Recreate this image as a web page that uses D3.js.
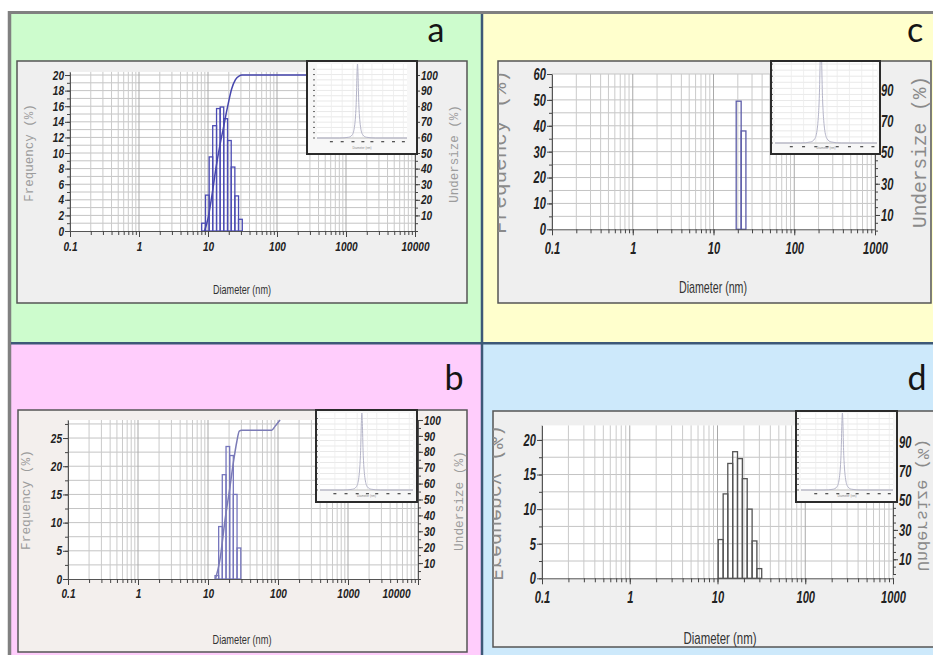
<!DOCTYPE html>
<html lang="en">
<head>
<meta charset="UTF-8">
<title>Particle size distribution (a-d)</title>
<script src="https://d3js.org/d3.v7.min.js"></script>
<style>
  body { margin: 0; background: #fff; }
  svg { display: block; }
  .tl { font-family: "Liberation Sans Narrow", "Liberation Sans", Arial, sans-serif; font-style: italic; font-weight: bold; fill: #222; }
  .axt { font-family: "Liberation Mono", "DejaVu Sans Mono", monospace; }
  .xt { font-family: "Liberation Sans Narrow", "Liberation Sans", Arial, sans-serif; fill: #333; }
  .letter { font-family: Lato, "Open Sans", sans-serif; fill: #151515; }
</style>
</head>
<body>
<svg id="chart" width="933" height="655"></svg>
<script>
// x axis (diameter, nm)
const diamTicksLong = [0.1, 1, 10, 100, 1000, 10000];
const diamLabelsLong = ["0.1", "1", "10", "100", "1000", "10000"];
const diamTicksShort = [0.1, 1, 10, 100, 1000];
const diamLabelsShort = ["0.1", "1", "10", "100", "1000"];

// a
const aBinEdges = [8.1, 9.2, 10.4, 11.7, 13.3, 15.0, 16.9, 19.2, 21.7, 24.5, 27.7, 31.4];
const aFrequency = [1.0, 4.6, 9.5, 13.5, 15.7, 15.9, 14.4, 11.6, 8.2, 4.5, 1.5];
const aUnderDiam = [8.9, 10.0, 11.6, 13.0, 14.6, 16.7, 19.3, 22.0, 25.0, 28.5, 31.0, 10000];
const aUndersize = [0, 8, 25, 40, 53, 66, 80, 91, 97, 99.5, 100, 100];
const aFreqTicks = [0, 2, 4, 6, 8, 10, 12, 14, 16, 18, 20];
const aUnderTicks = [10, 20, 30, 40, 50, 60, 70, 80, 90, 100];

// b
const bBinEdges = [12.6, 14.2, 16.0, 18.1, 20.4, 23.0, 26.0, 29.4];
const bFrequency = [0.6, 9.3, 18.5, 23.5, 21.9, 15.0, 5.5];
const bUnderDiam = [12.8, 14.8, 17.5, 20.6, 23.0, 25.7, 28.0, 30.3, 81.3, 90.6, 107];
const bUndersize = [0, 12, 37, 58, 73, 86, 93, 93.5, 93.5, 96, 100];
const bFreqTicks = [0, 5, 10, 15, 20, 25];
const bUnderTicks = [10, 20, 30, 40, 50, 60, 70, 80, 90, 100];

// c
const cBinEdges = [19.1, 22.0, 25.2];
const cFrequency = [49.5, 38];
const cFreqTicks = [0, 10, 20, 30, 40, 50, 60];
const cUnderTicks = [10, 30, 50, 70, 90];

// d
const dBinEdges = [10.2, 11.6, 13.1, 14.9, 16.9, 19.2, 21.8, 24.8, 28.1, 31.9];
const dFrequency = [5.6, 12.2, 16.6, 18.3, 17.3, 14.4, 10.0, 5.4, 1.4];
const dFreqTicks = [0, 5, 10, 15, 20];
const dUnderTicks = [10, 30, 50, 70, 90];

// inset peak (same shape in every inset)
const peakX = [0, 2.5, 3.5, 3.9, 4.15, 4.35, 4.5, 4.65, 4.85, 5.1, 5.5, 6.5, 10];
const peakY = [0, 0, 1, 4, 14, 45, 100, 45, 14, 4, 1, 0, 0];
const insetTicks = [1.6, 2.8, 4.0, 5.1, 6.1, 7.3, 8.5, 9.6];

const svg = d3.select("#chart");

const panels = [
  {
    letter: "a", letterPos: [436, 42], bg: "#cdfccd", area: [11, 14, 481, 342],
    box: [17, 61, 467, 303], boxFill: "#efefef",
    x0: 70, x1: 415, xMax: 10000, xTicks: diamTicksLong, xLabels: diamLabelsLong, xPad: 5, font: 13, digitW: 5.6, lastDx: 0,
    y0: 231, yTopPx: 71.9, gridTop: 20.4, gridStep: 1,
    freqTicks: aFreqTicks, freqMinor: 1, underTicks: aUnderTicks, underMinor: 5, rRange: [231, 75],
    edges: aBinEdges, freq: aFrequency, barColor: "#4b4bb4",
    under: aUnderDiam.map((d, i) => [d, aUndersize[i]]), curveColor: "#4646ad",
    freqTitle: { x: 30, y: 153, size: 12.5, mirror: false },
    underTitle: { x: 455, y: 154, size: 12.5, mirror: false },
    titleColor: "#9c9c9c",
    xTitle: { x: 242, y: 294, size: 13, len: 58 },
    inset: { frame: [307, 61, 417, 154], plot: [317, 64, 407, 138], peakMax: 100 }
  },
  {
    letter: "c", letterPos: [915, 42], bg: "#ffffcd", area: [483, 14, 933, 342],
    box: [498, 61, 931, 303], boxFill: "#efefef",
    x0: 552, x1: 875, xMax: 1000, xTicks: diamTicksShort, xLabels: diamLabelsShort, xPad: 7, font: 17, digitW: 6.2, lastDx: 0,
    y0: 229.3, yTopPx: 74, gridTop: 60, gridStep: 5,
    freqTicks: cFreqTicks, freqMinor: 5, underTicks: cUnderTicks, underMinor: 5, rRange: [230.6, 74.4],
    edges: cBinEdges, freq: cFrequency, barColor: "#5c5ca8",
    under: null,
    freqTitle: { x: 500, y: 152, size: 21, mirror: false },
    underTitle: { x: 921, y: 152, size: 19.5, mirror: false },
    titleColor: "#8a8a8a",
    xTitle: { x: 713, y: 293, size: 17, len: 68 },
    inset: { frame: [771, 61, 880, 154], plot: [775, 58, 877, 143], peakMax: 80 }
  },
  {
    letter: "b", letterPos: [454, 390], bg: "#ffcdfc", area: [11, 344, 481, 655],
    box: [18, 410, 467, 652], boxFill: "#f3efed",
    x0: 68, x1: 418, xMax: 10000, xTicks: diamTicksLong, xLabels: diamLabelsLong, xPad: 4, font: 13, digitW: 5.6, lastDx: -22,
    y0: 579, yTopPx: 420, gridTop: 28.2, gridStep: 2.5,
    freqTicks: bFreqTicks, freqMinor: 2.5, underTicks: bUnderTicks, underMinor: 5, rRange: [579, 420],
    edges: bBinEdges, freq: bFrequency, barColor: "#7676bd",
    under: bUnderDiam.map((d, i) => [d, bUndersize[i]]), curveColor: "#7b7bb6",
    freqTitle: { x: 26, y: 500, size: 12.8, mirror: false },
    underTitle: { x: 459, y: 501, size: 12.8, mirror: false },
    titleColor: "#9c9c9c",
    xTitle: { x: 242, y: 644, size: 13, len: 59 },
    inset: { frame: [316, 410, 417, 502], plot: [320, 413, 413, 490], peakMax: 100 }
  },
  {
    letter: "d", letterPos: [917, 390], bg: "#cde9fb", area: [483, 344, 933, 655],
    box: [493, 411, 940, 647], boxFill: "#efefef",
    x0: 542, x1: 893, xMax: 1000, xTicks: diamTicksShort, xLabels: diamLabelsShort, xPad: 7, font: 17, digitW: 6.2, lastDx: 0,
    y0: 578.3, yTopPx: 425.4, gridTop: 22.1, gridStep: 2.5,
    freqTicks: dFreqTicks, freqMinor: 2.5, underTicks: dUnderTicks, underMinor: 5, rRange: [574, 427],
    edges: dBinEdges, freq: dFrequency, barColor: "#555",
    under: null,
    freqTitle: { x: 495, y: 503, size: 20, mirror: true },
    underTitle: { x: 922, y: 505, size: 17, mirror: true },
    titleColor: "#8a8a8a",
    xTitle: { x: 720, y: 644, size: 17, len: 73 },
    inset: { frame: [796, 411, 897, 502], plot: [801, 413, 893, 490], peakMax: 100 }
  }
];

// panel backgrounds and frame
panels.forEach(p => {
  svg.append("rect").attr("x", p.area[0]).attr("y", p.area[1])
    .attr("width", p.area[2] - p.area[0]).attr("height", p.area[3] - p.area[1])
    .attr("fill", p.bg);
});
svg.append("line").attr("x1", 8).attr("x2", 933).attr("y1", 12.5).attr("y2", 12.5)
  .attr("stroke", "#808080").attr("stroke-width", 3);
svg.append("line").attr("x1", 9.5).attr("x2", 9.5).attr("y1", 11).attr("y2", 655)
  .attr("stroke", "#808080").attr("stroke-width", 3.5);
svg.append("line").attr("x1", 482).attr("x2", 482).attr("y1", 14).attr("y2", 655)
  .attr("stroke", "#3d5877").attr("stroke-width", 2.5);
svg.append("line").attr("x1", 11).attr("x2", 933).attr("y1", 343.2).attr("y2", 343.2)
  .attr("stroke", "#3d5877").attr("stroke-width", 2.5);

// condensed italic labels: squeeze each label to the width seen in the picture
function styleAxis(sel, p) {
  sel.select(".domain").attr("stroke", "#555");
  sel.selectAll(".tick line").attr("stroke", "#444");
  sel.selectAll(".tick text").attr("class", "tl").attr("fill", null)
    .style("font-size", p.font + "px")
    .each(function () {
      const s = d3.select(this).text();
      if (!s) return;
      const w = s.split("").reduce((acc, ch) => acc + (ch === "." ? p.digitW * 0.5 : p.digitW), 0);
      d3.select(this).attr("textLength", w).attr("lengthAdjust", "spacingAndGlyphs");
    });
}

function drawPanel(p, idx) {
  const g = svg.append("g");
  const clipId = "clip" + idx;
  g.append("clipPath").attr("id", clipId).append("rect")
    .attr("x", p.box[0]).attr("y", p.box[1])
    .attr("width", p.box[2] - p.box[0]).attr("height", p.box[3] - p.box[1]);

  g.append("rect").attr("x", p.box[0]).attr("y", p.box[1])
    .attr("width", p.box[2] - p.box[0]).attr("height", p.box[3] - p.box[1])
    .attr("fill", p.boxFill).attr("stroke", "#555").attr("stroke-width", 1.5);

  const x = d3.scaleLog().domain([0.1, p.xMax]).range([p.x0, p.x1]);
  const y = d3.scaleLinear().domain([0, p.gridTop]).range([p.y0, p.yTopPx]);
  const yR = d3.scaleLinear().domain([0, 100]).range(p.rRange);

  // plot area
  g.append("rect").attr("x", p.x0).attr("y", p.yTopPx)
    .attr("width", p.x1 - p.x0).attr("height", p.y0 - p.yTopPx).attr("fill", "#fff");

  // grid
  const hLines = d3.range(p.gridStep, p.gridTop + 0.01, p.gridStep);
  g.append("g").selectAll("line").data(hLines).join("line")
    .attr("x1", p.x0).attr("x2", p.x1)
    .attr("y1", d => y(d)).attr("y2", d => y(d))
    .attr("stroke", "#c4c4c4").attr("stroke-width", 1);

  const minors = [];
  for (let e = -1; e < Math.round(Math.log10(p.xMax)); e++) {
    for (let m = 1; m < 10; m++) minors.push(m * Math.pow(10, e));
  }
  minors.push(p.xMax);
  g.append("g").selectAll("line").data(minors).join("line")
    .attr("x1", d => x(d)).attr("x2", d => x(d))
    .attr("y1", p.yTopPx).attr("y2", p.y0)
    .attr("stroke", (d, i) => i % 9 === 0 ? "#a9a9a9" : "#cacaca").attr("stroke-width", 1);

  // bars
  g.append("g").selectAll("rect").data(p.freq).join("rect")
    .attr("x", (d, i) => x(p.edges[i]))
    .attr("width", (d, i) => x(p.edges[i + 1]) - x(p.edges[i]))
    .attr("y", d => y(d))
    .attr("height", d => p.y0 - y(d))
    .attr("fill", "none").attr("stroke", p.barColor).attr("stroke-width", 1.3);

  // undersize curve
  if (p.under) {
    g.append("path").datum(p.under)
      .attr("d", d3.line().x(d => x(d[0])).y(d => yR(d[1])).curve(d3.curveMonotoneX))
      .attr("fill", "none").attr("stroke", p.curveColor).attr("stroke-width", 1.5);
  }

  // x axis
  const xa = g.append("g").attr("transform", `translate(0,${p.y0})`)
    .call(d3.axisBottom(x).tickValues(minors).tickFormat("").tickSize(4).tickSizeOuter(0));
  styleAxis(xa, p);
  const xb = g.append("g").attr("transform", `translate(0,${p.y0})`)
    .call(d3.axisBottom(x).tickValues(p.xTicks).tickFormat((d, i) => p.xLabels[i])
      .tickSize(6).tickPadding(p.xPad).tickSizeOuter(0));
  styleAxis(xb, p);
  xb.select(".domain").remove();
  xb.selectAll(".tick text").attr("dx", (d, i) => i === p.xTicks.length - 1 ? p.lastDx : 0);

  // left axis
  const ya = g.append("g").attr("transform", `translate(${p.x0},0)`)
    .call(d3.axisLeft(y).tickValues(d3.range(0, p.gridTop, p.freqMinor)).tickFormat("").tickSize(3).tickSizeOuter(0));
  styleAxis(ya, p);
  const yb = g.append("g").attr("transform", `translate(${p.x0},0)`)
    .call(d3.axisLeft(y).tickValues(p.freqTicks).tickSize(5).tickPadding(1).tickSizeOuter(0));
  styleAxis(yb, p);
  yb.select(".domain").remove();

  // right axis
  const ra = g.append("g").attr("transform", `translate(${p.x1},0)`)
    .call(d3.axisRight(yR).tickValues(d3.range(0, 100.1, p.underMinor)).tickFormat("").tickSize(3).tickSizeOuter(0));
  styleAxis(ra, p);
  const rb = g.append("g").attr("transform", `translate(${p.x1},0)`)
    .call(d3.axisRight(yR).tickValues(p.underTicks).tickSize(5).tickPadding(1).tickSizeOuter(0));
  styleAxis(rb, p);
  rb.select(".domain").remove();

  // rotated axis titles, clipped to the chart box
  [[p.freqTitle, "Frequency (%)"], [p.underTitle, "Undersize (%)"]].forEach(([t, label]) => {
    g.append("g").attr("clip-path", `url(#${clipId})`)
      .append("text").attr("class", "axt")
      .attr("transform", `translate(${t.x},${t.y}) rotate(-90)` + (t.mirror ? " scale(1,-1)" : ""))
      .attr("text-anchor", "middle").attr("dominant-baseline", "central")
      .style("font-size", t.size + "px")
      .attr("fill", p.titleColor)
      .text(label);
  });

  g.append("text").attr("class", "xt")
    .attr("x", p.xTitle.x).attr("y", p.xTitle.y).attr("text-anchor", "middle")
    .style("font-size", p.xTitle.size + "px")
    .attr("textLength", p.xTitle.len).attr("lengthAdjust", "spacingAndGlyphs")
    .text("Diameter (nm)");

  // inset
  const ins = p.inset;
  const ig = g.append("g");
  const insClip = "insclip" + idx;
  ig.append("clipPath").attr("id", insClip).append("rect")
    .attr("x", ins.frame[0]).attr("y", ins.frame[1])
    .attr("width", ins.frame[2] - ins.frame[0]).attr("height", ins.frame[3] - ins.frame[1]);
  ig.append("rect").attr("x", ins.frame[0]).attr("y", ins.frame[1])
    .attr("width", ins.frame[2] - ins.frame[0]).attr("height", ins.frame[3] - ins.frame[1])
    .attr("fill", "#f7f7f7");
  const ix = d3.scaleLinear().domain([0, 10]).range([ins.plot[0], ins.plot[2]]);
  const iy = d3.scaleLinear().domain([0, ins.peakMax]).range([ins.plot[3], ins.plot[1]]);
  const inner = ig.append("g").attr("clip-path", `url(#${insClip})`);
  inner.append("rect").attr("x", ins.plot[0]).attr("y", ins.plot[1])
    .attr("width", ins.plot[2] - ins.plot[0]).attr("height", ins.plot[3] - ins.plot[1]).attr("fill", "#fff");
  const iRows = d3.range(0, 14);
  const rowH = (ins.plot[3] - ins.plot[1]) / 14;
  inner.append("g").selectAll("line").data(iRows).join("line")
    .attr("x1", ins.plot[0]).attr("x2", ins.plot[2])
    .attr("y1", d => ins.plot[3] - d * rowH).attr("y2", d => ins.plot[3] - d * rowH)
    .attr("stroke", "#e3e3e3").attr("stroke-width", 0.8);
  inner.append("g").selectAll("line").data(insetTicks).join("line")
    .attr("x1", d => ix(d)).attr("x2", d => ix(d))
    .attr("y1", ins.plot[1]).attr("y2", ins.plot[3])
    .attr("stroke", "#ececec").attr("stroke-width", 0.8);
  inner.append("g").selectAll("rect").data(iRows).join("rect")
    .attr("x", ins.plot[0] - 4).attr("y", d => ins.plot[3] - d * rowH - 0.5)
    .attr("width", 2).attr("height", 1).attr("fill", "#666");
  inner.append("g").selectAll("rect").data(insetTicks).join("rect")
    .attr("x", d => ix(d) - 1.5).attr("y", ins.plot[3] + 3)
    .attr("width", 3).attr("height", 1.3).attr("fill", "#555");
  inner.append("line").attr("x1", ins.plot[0]).attr("x2", ins.plot[2])
    .attr("y1", ins.plot[3]).attr("y2", ins.plot[3]).attr("stroke", "#bbb").attr("stroke-width", 0.8);
  inner.append("path").datum(peakX.map((d, i) => [d, peakY[i]]))
    .attr("d", d3.line().x(d => ix(d[0])).y(d => iy(d[1])).curve(d3.curveMonotoneX))
    .attr("fill", "none").attr("stroke", "#b4b4c8").attr("stroke-width", 1);
  inner.append("text").attr("x", ix(5)).attr("y", ins.frame[3] - 5).attr("text-anchor", "middle")
    .style("font-size", "3px").style("font-family", "Liberation Sans, sans-serif").attr("fill", "#888")
    .text("Diameter (nm)");
  ig.append("rect").attr("x", ins.frame[0]).attr("y", ins.frame[1])
    .attr("width", ins.frame[2] - ins.frame[0]).attr("height", ins.frame[3] - ins.frame[1])
    .attr("fill", "none").attr("stroke", "#2b2b2b").attr("stroke-width", 2);

  // panel letter
  svg.append("text").attr("class", "letter")
    .attr("x", p.letterPos[0]).attr("y", p.letterPos[1]).attr("text-anchor", "middle")
    .style("font-size", "34px").text(p.letter);
}

panels.forEach(drawPanel);
</script>
</body>
</html>
